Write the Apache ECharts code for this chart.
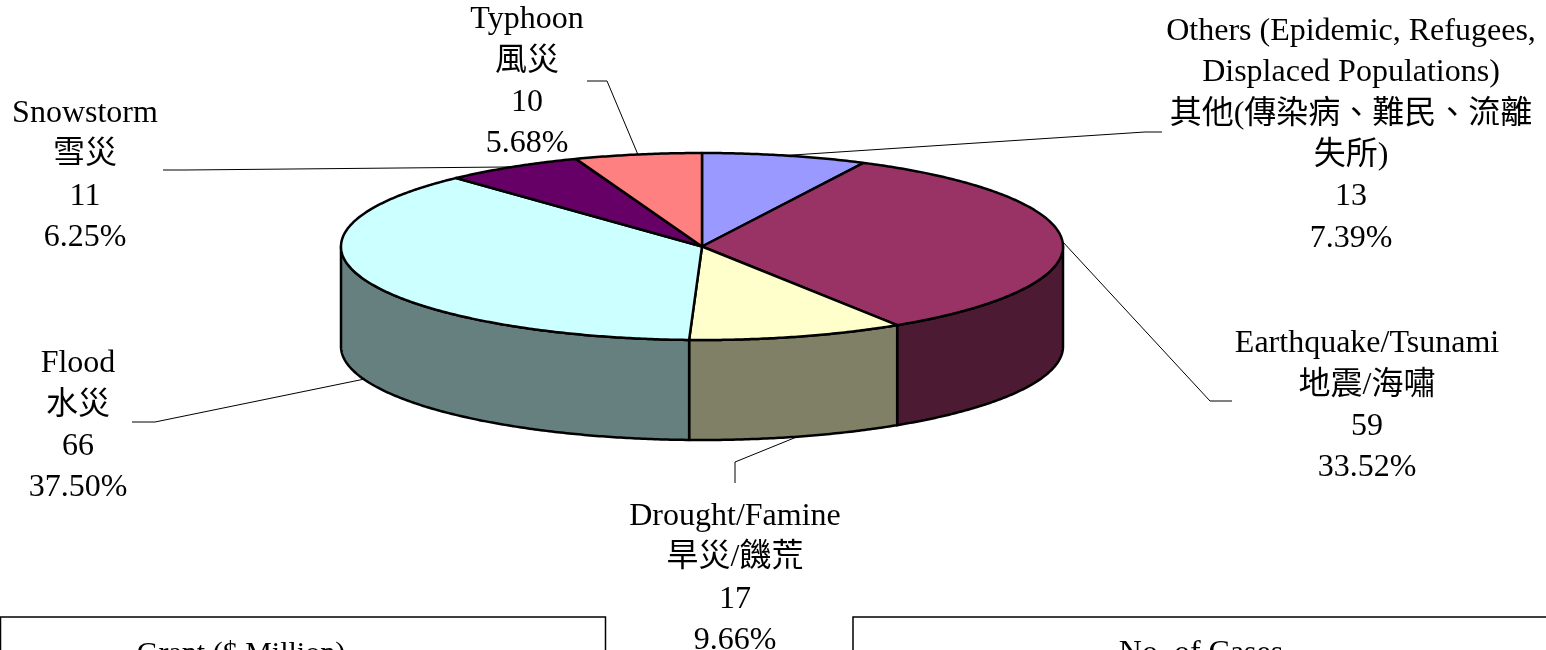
<!DOCTYPE html>
<html>
<head>
<meta charset="utf-8">
<script src="https://cdn.jsdelivr.net/npm/echarts@6/dist/echarts.min.js"></script>
<style>
html,body{margin:0;padding:0;background:#fff;}
#chart{width:1546px;height:650px;}
</style>
</head>
<body>
<div id="chart"></div>
<script>
// ---- data ----
const categoriesEn = ['Others (Epidemic, Refugees,\nDisplaced Populations)', 'Earthquake/Tsunami', 'Drought/Famine', 'Flood', 'Snowstorm', 'Typhoon'];
const categoriesZh = ['其他(傳染病、難民、流離\n失所)', '地震/海嘯', '旱災/饑荒', '水災', '雪災', '風災'];
const caseCounts = [13, 59, 17, 66, 11, 10];
const tableTitles = ['Grant ($ Million)', 'No. of Cases'];

// ---- styles / layout ----
const topColors = ['#9999FF', '#993366', '#FFFFCC', '#CCFFFF', '#660066', '#FF8080'];
const sideColors = ['#4D4D80', '#4D1A33', '#808066', '#668080', '#330033', '#804040'];
const CX = 702, CY = 246.5, RX = 361, RY = 93.5, DEPTH = 100;
const labelCenters = [[1351, 135], [1367, 406], [735, 578.5], [78, 426], [85, 175.5], [527, 82]];
const leaderStarts = [[1162, 132], [1232, 401], [735, 483], [132, 422], [163, 170], [587, 81]];
const leaderKnees = [[1145, 132], [1210, 401], [735, 462], [155, 422], [185, 170], [607, 81]];
const FONT = "'Liberation Serif', 'Times New Roman', 'Noto Sans CJK TC', serif";

const total = caseCounts.reduce((a, b) => a + b, 0);
const startAngles = [];
{
  let acc = 0;
  caseCounts.forEach(v => { startAngles.push(acc / total * 360); acc += v; });
}
function pt(deg, dy) {
  const r = deg * Math.PI / 180;
  return [CX + RX * Math.sin(r), CY - RY * Math.cos(r) + (dy || 0)];
}
function arc(a0, a1, dy) {
  const pts = [];
  const n = Math.max(2, Math.ceil(Math.abs(a1 - a0) / 0.5));
  for (let k = 0; k <= n; k++) pts.push(pt(a0 + (a1 - a0) * k / n, dy));
  return pts;
}
function sliceRange(i) {
  const a0 = startAngles[i];
  const a1 = a0 + caseCounts[i] / total * 360;
  return [a0, a1];
}
const seriesData = caseCounts.map((v, i) => [i, v]);

const chart = echarts.init(document.getElementById('chart'), null, { renderer: 'canvas' });
chart.setOption({
  animation: false,
  backgroundColor: '#fff',
  graphic: [
    { type: 'rect', shape: { x: 0.5, y: 617, width: 605, height: 60 }, style: { fill: 'none', stroke: '#000', lineWidth: 1.5 } },
    { type: 'rect', shape: { x: 853, y: 617, width: 720, height: 60 }, style: { fill: 'none', stroke: '#000', lineWidth: 1.5 } },
    { type: 'text', x: 241, y: 654, style: { text: tableTitles[0], font: '30px ' + FONT, fill: '#000', align: 'center', verticalAlign: 'middle' } },
    { type: 'text', x: 1201, y: 654, style: { text: tableTitles[1], font: '32px ' + FONT, fill: '#000', align: 'center', verticalAlign: 'middle' } }
  ],
  series: [
    {
      type: 'custom', coordinateSystem: 'none', z: 1, data: seriesData,
      renderItem: function (params, api) {
        const i = api.value(0);
        const [a0, a1] = sliceRange(i);
        const s = Math.max(a0, 90), e = Math.min(a1, 270);
        if (s >= e) return null;
        const pts = arc(s, e, 0).concat(arc(e, s, DEPTH));
        return { type: 'polygon', shape: { points: pts }, style: { fill: sideColors[i], stroke: '#000', lineWidth: 2.5, lineJoin: 'round' } };
      }
    },
    {
      type: 'custom', coordinateSystem: 'none', z: 2, data: seriesData,
      renderItem: function (params, api) {
        const i = api.value(0);
        const [a0, a1] = sliceRange(i);
        const pts = [[CX, CY]].concat(arc(a0, a1, 0));
        return { type: 'polygon', shape: { points: pts }, style: { fill: topColors[i], stroke: '#000', lineWidth: 2.5, lineJoin: 'round' } };
      }
    },
    {
      type: 'custom', coordinateSystem: 'none', z: 3, data: seriesData,
      renderItem: function (params, api) {
        const i = api.value(0);
        const v = api.value(1);
        const [a0, a1] = sliceRange(i);
        const m = (a0 + a1) / 2;
        const anchor = pt(m, (m > 90 && m < 270) ? DEPTH : 0);
        const pct = (v / total * 100).toFixed(2) + '%';
        const txt = categoriesEn[i] + '\n' + categoriesZh[i] + '\n' + v + '\n' + pct;
        return {
          type: 'group',
          children: [
            { type: 'polyline', shape: { points: [leaderStarts[i], leaderKnees[i], anchor] }, style: { stroke: '#000', lineWidth: 1, fill: null } },
            { type: 'text', x: labelCenters[i][0], y: labelCenters[i][1], style: { text: txt, font: '32px ' + FONT, lineHeight: 41.3, fill: '#000', align: 'center', verticalAlign: 'middle' } }
          ]
        };
      }
    }
  ]
});
</script>
</body>
</html>
